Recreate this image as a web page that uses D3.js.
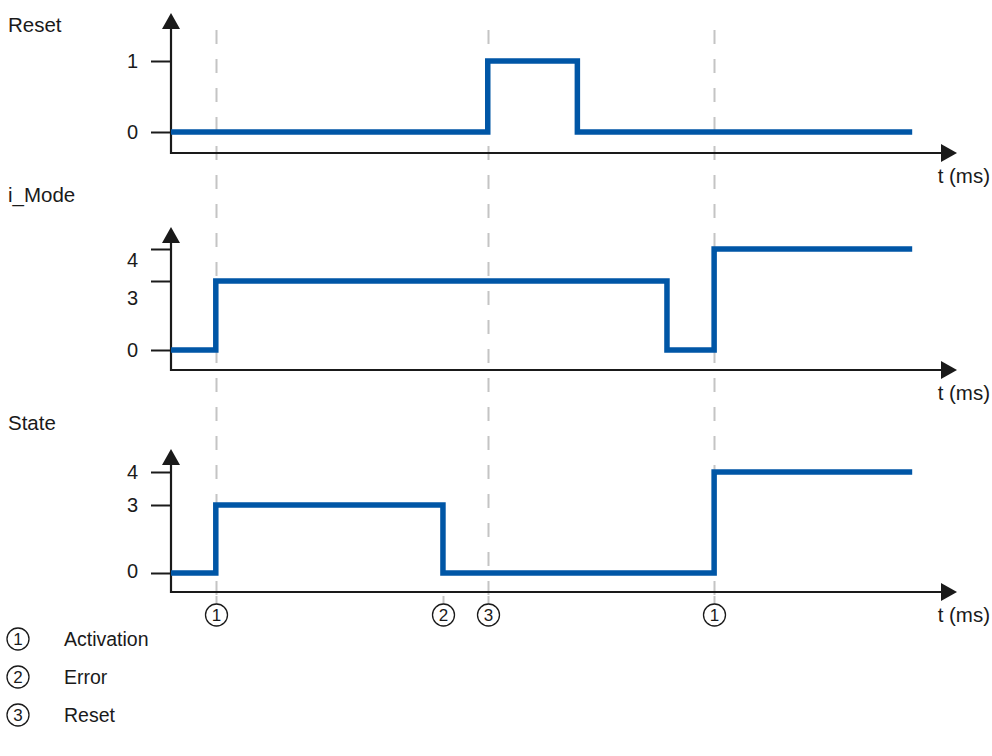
<!DOCTYPE html>
<html>
<head>
<meta charset="utf-8">
<script src="https://cdn.jsdelivr.net/npm/d3@7"></script>
<style>
  html, body { margin: 0; padding: 0; background: #fff; }
  svg { display: block; font-family: "Liberation Sans", Arial, sans-serif; }
</style>
</head>
<body>
<svg id="chart" width="992" height="756"></svg>
<script>
// ---- data ----
const panelTitles = ["Reset", "i_Mode", "State"];
const xAxisLabel = "t (ms)";
const resetTimes = [0, 40.3, 51.7, 94.3];
const resetValues = [0, 1, 0, 0];
const iModeTimes = [0, 5.7, 63.1, 69.1, 94.3];
const iModeValues = [0, 3, 0, 4, 4];
const stateTimes = [0, 5.7, 34.6, 69.1, 94.3];
const stateValues = [0, 3, 0, 4, 4];
const resetTicks = [0, 1];
const modeTicks = [0, 3, 4];
const stateTicks = [0, 3, 4];
const markerTimes = [5.7, 34.6, 40.3, 69.1];
const markerLabels = ["1", "2", "3", "1"];
const markerFullLine = [true, false, true, true];
const legendNumbers = ["1", "2", "3"];
const legendTexts = ["Activation", "Error", "Reset"];

// ---- layout ----
const svg = d3.select("#chart");
const x = d3.scaleLinear().domain([0, 100]).range([171, 957]);
const blue = "#0056a6";
const ink = "#1a1a1a";
const fs = 20.5;

const panels = [
  { title: panelTitles[0], times: resetTimes, values: resetValues, ticks: resetTicks,
    y: d3.scaleLinear().domain([0, 1]).range([132, 61]),
    tip: 13, base: 153, titleY: 25, labelDy: {} },
  { title: panelTitles[1], times: iModeTimes, values: iModeValues, ticks: modeTicks,
    y: d3.scaleLinear().domain([0, 3, 4]).range([350, 281, 249]),
    tip: 227, base: 370, titleY: 195, labelDy: { 3: 17, 4: 11 } },
  { title: panelTitles[2], times: stateTimes, values: stateValues, ticks: stateTicks,
    y: d3.scaleLinear().domain([0, 3, 4]).range([573, 505, 472]),
    tip: 449, base: 592, titleY: 423, labelDy: { 0: -2 } }
];

const markerY = 615;

// dashed guide lines (drawn first, under everything)
const guides = svg.append("g");
markerTimes.forEach((t, i) => {
  const gx = Math.round(x(t)) + 0.5;
  if (markerFullLine[i]) {
    guides.append("line")
      .attr("x1", gx).attr("x2", gx).attr("y1", 30).attr("y2", markerY - 10)
      .attr("stroke", "#c4c4c4").attr("stroke-width", 2)
      .attr("stroke-dasharray", "14,15");
  }
  guides.append("line")
    .attr("x1", gx).attr("x2", gx).attr("y1", 596).attr("y2", markerY - 10)
    .attr("stroke", "#c4c4c4").attr("stroke-width", 2);
});

const line = d3.line().curve(d3.curveStepAfter);

panels.forEach(p => {
  const g = svg.append("g");
  g.append("text").attr("x", 8).attr("y", p.titleY).attr("dy", "0.35em")
    .attr("font-size", fs).attr("fill", ink).text(p.title);

  const ax = g.append("g").attr("transform", `translate(${x(0)},0)`)
    .call(d3.axisLeft(p.y).tickValues(p.ticks).tickSize(20).tickPadding(13).tickFormat(d3.format("d")));
  ax.select(".domain").remove();
  ax.selectAll(".tick line").attr("stroke", ink).attr("stroke-width", 2);
  ax.selectAll(".tick text").attr("font-size", 20).attr("fill", ink)
    .attr("font-family", "Liberation Sans, Arial, sans-serif")
    .attr("y", d => p.labelDy[d] || 0);

  g.append("line").attr("x1", x(0)).attr("x2", x(0)).attr("y1", p.tip + 14).attr("y2", p.base + 1)
    .attr("stroke", ink).attr("stroke-width", 2.2);
  g.append("path")
    .attr("d", `M${x(0)},${p.tip} L${x(0) - 9},${p.tip + 16} L${x(0) + 9},${p.tip + 16} Z`)
    .attr("fill", ink);

  g.append("line").attr("x1", x(0) - 1).attr("x2", x(100) - 14).attr("y1", p.base).attr("y2", p.base)
    .attr("stroke", ink).attr("stroke-width", 2.2);
  g.append("path")
    .attr("d", `M${x(100)},${p.base} L${x(100) - 16},${p.base - 9} L${x(100) - 16},${p.base + 9} Z`)
    .attr("fill", ink);
  g.append("text").attr("x", 990).attr("y", p.base + 23).attr("dy", "0.35em")
    .attr("text-anchor", "end").attr("font-size", fs).attr("fill", ink).text(xAxisLabel);

  const pts = p.times.map((t, i) => [x(t), p.y(p.values[i])]);
  g.append("path").attr("d", line(pts)).attr("fill", "none")
    .attr("stroke", blue).attr("stroke-width", 5.5).attr("stroke-linejoin", "miter");
});

// circled markers under the time axis
const mk = svg.append("g");
markerTimes.forEach((t, i) => {
  const cx = Math.round(x(t)) + 0.5;
  mk.append("circle").attr("cx", cx).attr("cy", markerY).attr("r", 11)
    .attr("fill", "#fff").attr("stroke", ink).attr("stroke-width", 1.3);
  mk.append("text").attr("x", cx).attr("y", markerY).attr("dy", "0.36em")
    .attr("text-anchor", "middle").attr("font-size", 17).attr("fill", ink).text(markerLabels[i]);
});

// legend
const lg = svg.append("g");
legendNumbers.forEach((n, i) => {
  const cy = 639 + i * 38;
  lg.append("circle").attr("cx", 18).attr("cy", cy).attr("r", 11)
    .attr("fill", "#fff").attr("stroke", ink).attr("stroke-width", 1.3);
  lg.append("text").attr("x", 18).attr("y", cy).attr("dy", "0.36em")
    .attr("text-anchor", "middle").attr("font-size", 17).attr("fill", ink).text(n);
  lg.append("text").attr("x", 64).attr("y", cy).attr("dy", "0.35em")
    .attr("font-size", 19.5).attr("fill", ink).text(legendTexts[i]);
});
</script>
</body>
</html>
